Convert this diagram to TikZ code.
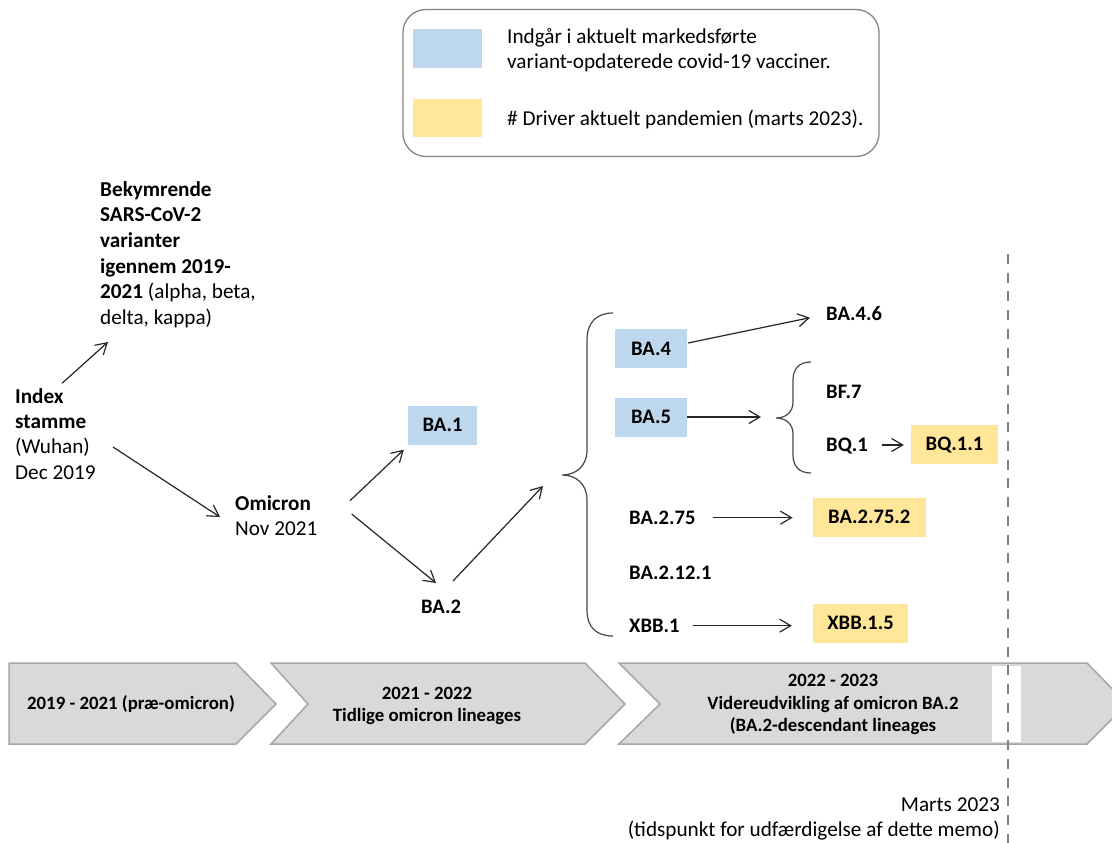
\documentclass[tikz,border=0pt]{standalone}
\usepackage{fontspec}
\setmainfont{Carlito}
\usetikzlibrary{arrows.meta}
\definecolor{vacblue}{HTML}{BDD7EE}
\definecolor{drvyellow}{HTML}{FFE699}
\definecolor{chevgray}{HTML}{D9D9D9}
\definecolor{chevline}{HTML}{A6A6A6}
\definecolor{linegray}{HTML}{262626}
\definecolor{dashgray}{HTML}{808080}
\tikzset{
  lbl/.style={font=\bfseries\fontsize{20.6}{24}\selectfont, inner sep=0pt, text height=13pt, text depth=0pt},
  vacbox/.style={lbl, fill=vacblue, minimum height=39pt},
  drvbox/.style={lbl, fill=drvyellow, minimum height=39pt},
  txt/.style={font=\fontsize{21.2}{25.3}\selectfont, inner sep=0pt, align=left, anchor=base west},
  arr/.style={draw=linegray, line width=1.2pt, -{Straight Barb[length=11pt,width=13pt]}},
  brc/.style={draw=linegray!85, line width=1.2pt},
  chev/.style={fill=chevgray, draw=chevline, line width=1.5pt},
  chevtxt/.style={font=\bfseries\fontsize{18.8}{22.5}\selectfont, align=center, inner sep=0pt, anchor=base}
}
\begin{document}
\begin{tikzpicture}[x=1pt,y=-1pt]
\useasboundingbox (0,0) rectangle (1112,843);
\clip (0,0) rectangle (1112,843);
\fill[white] (0,0) rectangle (1112,843);

\draw[draw=chevline!80!black, line width=1.3pt, rounded corners=23pt] (403,9.5) rectangle (879,156.5);
\node[fill=vacblue, minimum width=69pt, minimum height=38.5pt, inner sep=0pt] (keyvac) at (447.5,48.5) {};
\node[fill=drvyellow, minimum width=69pt, minimum height=38.5pt, inner sep=0pt] (keydrv) at (447.5,118.2) {};
\node[txt, font=\fontsize{21.2}{25}\selectfont] (keyvactxt) at (507,68.3) {Indgår i aktuelt markedsførte\\variant-opdaterede covid-19 vacciner.};
\node[txt] (keydrvtxt) at (507,125) {\# Driver aktuelt pandemien (marts 2023).};

\node[txt] (index) at (15,479.2) {\textbf{Index}\\\textbf{stamme}\\(Wuhan)\\Dec 2019};
\node[txt, font=\fontsize{21.2}{25.7}\selectfont] (bekym) at (100,324.5) {\textbf{Bekymrende}\\\textbf{SARS-CoV-2}\\\textbf{varianter}\\\textbf{igennem 2019-}\\\textbf{2021} (alpha, beta,\\delta, kappa)};
\node[txt] (omicron) at (235,535.8) {\textbf{Omicron}\\Nov 2021};

\node[vacbox, minimum width=69pt] (baone) at (442.5,425) {BA.1};
\node[lbl, anchor=base] (batwo) at (441,613.2) {BA.2};
\node[vacbox, minimum width=72pt] (bafour) at (651,348.5) {BA.4};
\node[vacbox, minimum width=72pt] (bafive) at (651,417) {BA.5};
\node[lbl, anchor=west] (bafoursix) at (826,314) {BA.4.6};
\node[lbl, anchor=west] (bfseven) at (826,391.7) {BF.7};
\node[lbl, anchor=west] (bqone) at (826,445) {BQ.1};
\node[drvbox, minimum width=87pt] (bqoneone) at (954.5,444) {BQ.1.1};
\node[lbl, anchor=west] (baseventyfive) at (629,517.7) {BA.2.75};
\node[drvbox, minimum width=113pt] (baseventyfivetwo) at (869.3,517.3) {BA.2.75.2};
\node[lbl, anchor=west] (batwelve) at (629,573) {BA.2.12.1};
\node[lbl, anchor=west] (xbbone) at (629,625.7) {XBB.1};
\node[drvbox, minimum width=95pt] (xbbonefive) at (860.5,623.3) {XBB.1.5};

\coordinate (bigtip) at (562,475);
\coordinate (subtip) at (776,418);
\draw[brc] (613,313) .. controls (597,313) and (587,322) .. (587,340) -- (587,450) .. controls (587,467) and (575,475) .. (bigtip) .. controls (575,475) and (587,483) .. (587,500) -- (587,610) .. controls (587,628) and (597,636) .. (613,636);
\draw[brc] (811,362) .. controls (799,362) and (793,369) .. (793,380) -- (793,402) .. controls (793,412) and (786,418) .. (subtip) .. controls (786,418) and (793,424) .. (793,434) -- (793,455) .. controls (793,466) and (799,473) .. (811,473);

\draw[arr] ([shift={(47,-95.9)}]index.base west) -- ([shift={(8,17.5)}]bekym.base west);
\draw[arr] ([shift={(98,-32.2)}]index.base west) -- ([shift={(-15,-18.8)}]omicron.base west);
\draw[arr] ([shift={(115,-35.1)}]omicron.base west) -- ([shift={(-4,5)}]baone.south west);
\draw[arr] ([shift={(116.7,-21.8)}]omicron.base west) -- ([shift={(-5,-30.2)}]batwo.base);
\draw[arr] ([shift={(12,-32.2)}]batwo.base) -- ([shift={(-19,11)}]bigtip);
\draw[arr] ([shift={(0.7,-5.5)}]bafour.east) -- ([shift={(-16,3.7)}]bafoursix.west);
\draw[arr, shorten >=15pt] (bafive.east) -- (bafive.east -| subtip);
\draw[arr, shorten <=14pt, shorten >=7pt] (bqone.east) -- (bqone.east -| bqoneone.west);
\draw[arr, shorten <=17pt, shorten >=20pt] (baseventyfive.east) -- (baseventyfive.east -| baseventyfivetwo.west);
\draw[arr, shorten <=13pt, shorten >=21pt] (xbbone.east) -- (xbbone.east -| xbbonefive.west);

\draw[chev] (9,663) -- (236,663) -- (276,704) -- (236,744) -- (9,744) -- cycle;
\draw[chev] (271,663) -- (585,663) -- (625,704) -- (585,744) -- (271,744) -- (308,704) -- cycle;
\draw[chev] (619,663) -- (1087,663) -- (1127,704) -- (1087,744) -- (619,744) -- (660,704) -- cycle;
\fill[white] (992,666) rectangle (1021,742);
\node[chevtxt] (erapre) at (131,709) {2019 - 2021 (præ-omicron)};
\node[chevtxt] (eraearly) at (427,721.8) {2021 - 2022\\Tidlige omicron lineages};
\node[chevtxt] (eralate) at (833,731.7) {2022 - 2023\\Videreudvikling af omicron BA.2\\(BA.2-descendant lineages};

\coordinate (nowtop) at (1008,254);
\coordinate (nowbot) at (1008,843);
\draw[dashgray, line width=2.5pt, dash pattern=on 10pt off 8.7pt] (nowtop) -- (nowbot);
\node[txt, align=right, anchor=base east, font=\fontsize{21.2}{24.5}\selectfont] (nowlbl) at (1000,836) {Marts 2023\\(tidspunkt for udfærdigelse af dette memo)};
\end{tikzpicture}
\end{document}
